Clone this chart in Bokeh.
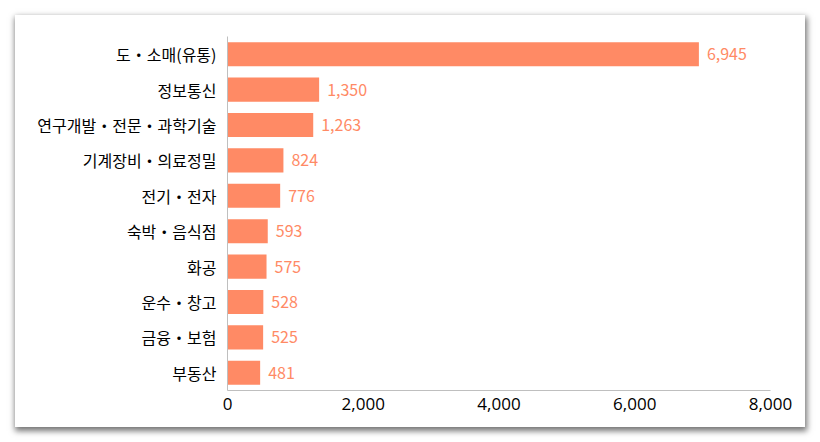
from bokeh.plotting import figure
from bokeh.models import ColumnDataSource, NumeralTickFormatter, FixedTicker, Range1d
from bokeh.embed import file_html
from bokeh.resources import INLINE
from bokeh.core.properties import value

categories = ["도・소매(유통)", "정보통신", "연구개발・전문・과학기술", "기계장비・의료정밀",
              "전기・전자", "숙박・음식점", "화공", "운수・창고", "금융・보험", "부동산"]
values = [6945, 1350, 1263, 824, 776, 593, 575, 528, 525, 481]
x_ticks = [0, 2000, 4000, 6000, 8000]

labels = [f"{v:,}" for v in values]
src = ColumnDataSource(dict(cat=categories, val=values, lab=labels))

FONT = "Noto Sans CJK KR"
BAR = "#FF8A65"

p = figure(width=790, height=412, y_range=list(reversed(categories)),
           x_range=Range1d(0, 8000), output_backend="svg", toolbar_location=None,
           min_border_left=212, min_border_right=35, min_border_top=21, min_border_bottom=37,
           margin=(15, 15, 15, 15),
           styles={"box-shadow": "1px 3px 6px 1px rgba(0,0,0,0.55)"})

p.hbar(y="cat", right="val", left=0, height=0.68, source=src, color=BAR, line_color=None)
p.text(x="val", y="cat", text="lab", source=src, x_offset=8, text_baseline="middle",
       text_align="left", text_color=BAR, text_font=value(FONT), text_font_size="16px")

p.outline_line_color = None
p.grid.visible = False
p.background_fill_color = "white"
p.border_fill_color = "white"

p.xaxis.ticker = FixedTicker(ticks=x_ticks)
p.xaxis.formatter = NumeralTickFormatter(format="0,0")
for ax in (p.xaxis, p.yaxis):
    ax.axis_line_color = "#BFBFBF"
    ax.major_tick_line_color = None
    ax.minor_tick_line_color = None
    ax.major_label_text_color = "#000000"
    ax.major_label_text_font_style = "normal"
p.yaxis.major_label_text_font = FONT
p.xaxis.major_label_text_font = "Open Sans"
p.xaxis.major_label_text_font_size = "17px"
p.yaxis.major_label_text_font_size = "16px"
p.yaxis.major_label_standoff = 5
p.xaxis.major_label_standoff = 1

open("out.html", "w").write(file_html(p, INLINE))
